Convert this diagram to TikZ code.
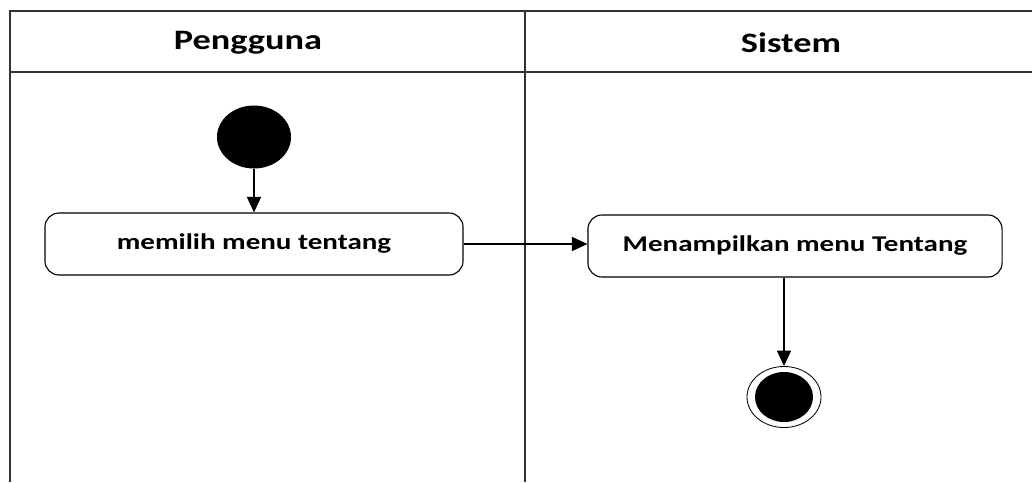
\documentclass[tikz,border=0pt]{standalone}
\usepackage{fontspec}
\setmainfont{Carlito}[FakeStretch=1.29]
\usetikzlibrary{shapes.geometric,arrows.meta}

\begin{document}
\begin{tikzpicture}[
  x=0.025cm, y=-0.025cm,
  lane/.style={draw=black!80, line width=0.8pt},
  title/.style={font=\bfseries\fontsize{20}{24}\selectfont},
  act/.style={draw, rounded corners=10pt, line width=0.8pt, minimum height=1.55cm,
    font=\bfseries\fontsize{16}{19}\selectfont},
  init/.style={ellipse, fill=black, inner sep=0pt, minimum width=1.85cm, minimum height=1.575cm},
  fin/.style={ellipse, draw, line width=0.6pt, inner sep=0pt, minimum width=1.85cm, minimum height=1.525cm},
  finin/.style={ellipse, fill=black, inner sep=0pt, minimum width=1.45cm, minimum height=1.25cm},
  flow/.style={line width=0.9pt, -{Triangle[length=11pt, width=10pt]}}
]
\useasboundingbox (0,0) rectangle (1032,482);

% swimlanes
\draw[lane] (10,482) -- (10,11) -- (1032,11);
\draw[lane] (10,72) -- (1032,72);
\draw[lane] (525,11) -- (525,482);
\node[title] (user) at (248,43) {Pengguna};
\node[title] (sys) at (791,43) {Sistem};

% nodes
\node[init] (start) at (254,137) {};
\node[act, minimum width=10.45cm] (pilih) at (254,244) {memilih menu tentang};
\node[act, minimum width=10.35cm] (tampil) at (795,246) {Menampilkan menu Tentang};
\node[fin] (end) at (784,397) {};
\node[finin] (endin) at (end) {};

% flows
\draw[flow] (start) -- (pilih);
\draw[flow] (pilih.east) -- (pilih.east -| tampil.west);
\draw[flow] (end.north |- tampil.south) -- (end);

\end{tikzpicture}
\end{document}
